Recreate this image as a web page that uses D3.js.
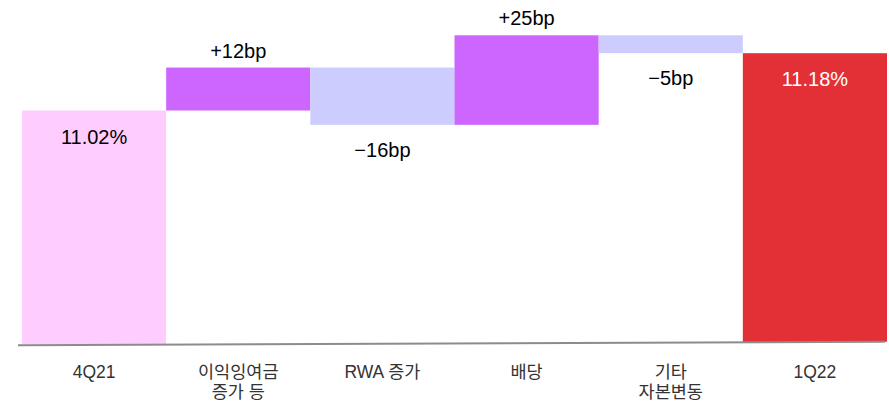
<!DOCTYPE html>
<html>
<head>
<meta charset="utf-8">
<script src="https://cdn.jsdelivr.net/npm/d3@7"></script>
<style>
  body { margin: 0; background: #fff; }
  text { font-family: "Liberation Sans", Arial, "Noto Sans CJK KR", sans-serif; }
</style>
</head>
<body>
<div id="chart"></div>
<script>
// Waterfall data: totals in %, changes in %-points (1bp = 0.01)
const categories = ['4Q21', '이익잉여금\n증가 등', 'RWA 증가', '배당', '기타\n자본변동', '1Q22'];
const steps = [11.02, 0.12, -0.16, 0.25, -0.05, 11.18];
const kinds = ['start', 'up', 'down', 'up', 'down', 'end'];
const valueLabels = ['11.02%', '+12bp', '\u221216bp', '+25bp', '\u22125bp', '11.18%'];

const width = 889;
const height = 402;
const yMin = 10.368;

const colors = { start: '#FFCCFF', up: '#CC66FF', down: '#CCCCFF', end: '#E33036' };

// Build bar extents
let running = 0;
const bars = categories.map((c, i) => {
    let lo, hi;
    if (kinds[i] === 'start' || kinds[i] === 'end') {
        lo = yMin; hi = steps[i]; running = steps[i];
    } else {
        const next = running + steps[i];
        lo = Math.min(running, next); hi = Math.max(running, next);
        running = next;
    }
    return { category: c, kind: kinds[i], lo, hi, label: valueLabels[i] };
});

const svg = d3.select('#chart').append('svg')
    .attr('width', width)
    .attr('height', height);

const x = d3.scaleBand().domain(categories).range([22, 887]).padding(0);
const y = d3.scaleLinear().domain([yMin, 11.23]).range([344, 35.3]);

// Slanted baseline, as in the source slide
const lineStart = [18, 345.2];
const lineEnd = [885, 341.8];
const lineY = px => lineStart[1] + (px - lineStart[0]) * (lineEnd[1] - lineStart[1]) / (lineEnd[0] - lineStart[0]);

svg.append('clipPath').attr('id', 'above-line')
    .append('polygon')
    .attr('points', [[0, 0], [width, 0], [width, lineY(width)], [0, lineY(0)]].map(p => p.join(',')).join(' '));

const g = svg.append('g').attr('clip-path', 'url(#above-line)');

g.selectAll('rect')
    .data(bars)
    .enter().append('rect')
    .attr('x', d => x(d.category))
    .attr('width', x.bandwidth())
    .attr('y', d => y(d.hi))
    .attr('height', d => y(d.lo) - y(d.hi))
    .attr('fill', d => colors[d.kind]);

svg.append('line')
    .attr('x1', lineStart[0]).attr('y1', lineStart[1])
    .attr('x2', lineEnd[0]).attr('y2', lineEnd[1])
    .attr('stroke', '#8c8c8c')
    .attr('stroke-width', 2);

// Value labels
svg.selectAll('.value')
    .data(bars)
    .enter().append('text')
    .attr('class', 'value')
    .attr('x', d => x(d.category) + x.bandwidth() / 2)
    .attr('y', d => {
        if (d.kind === 'up') return y(d.hi) - 10;
        if (d.kind === 'down') return y(d.lo) + 32;
        return y(d.hi) + 33;
    })
    .attr('text-anchor', 'middle')
    .attr('font-size', 20)
    .attr('fill', d => d.kind === 'end' ? '#fff' : '#000')
    .text(d => d.label);

// Category labels (may span two lines)
const cat = svg.selectAll('.cat')
    .data(categories)
    .enter().append('text')
    .attr('class', 'cat')
    .attr('x', d => x(d) + x.bandwidth() / 2)
    .attr('y', 378)
    .attr('text-anchor', 'middle')
    .attr('font-size', 17.5)
    .attr('fill', '#333');

cat.selectAll('tspan')
    .data(d => d.split('\n'))
    .enter().append('tspan')
    .attr('x', function() { return d3.select(this.parentNode).attr('x'); })
    .attr('dy', (d, i) => i === 0 ? 0 : 20)
    .text(d => d);
</script>
</body>
</html>
